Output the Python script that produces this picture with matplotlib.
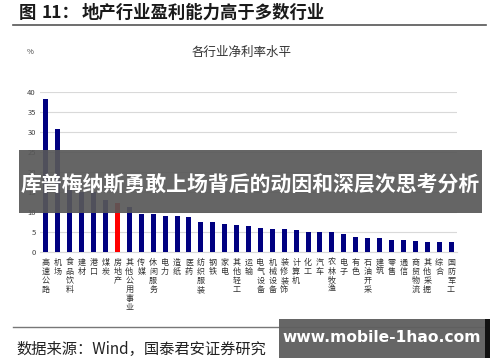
import matplotlib
matplotlib.use("Agg")
import matplotlib.pyplot as plt
from matplotlib.patches import Rectangle

plt.rcParams['font.family'] = ['Noto Sans CJK SC', 'DejaVu Sans']

categories = ["高速公路", "机场", "食品饮料", "建材", "港口", "煤炭", "房地产", "其他公用事业",
              "传媒", "休闲服务", "电力", "造纸", "医药", "纺织服装", "钢铁", "家电", "其他轻工",
              "运输", "电气设备", "机械设备", "装修装饰", "计算机", "化工", "汽车", "农林牧渔",
              "电子", "有色", "石油开采", "建筑", "零售", "通信", "商贸物流", "其他采掘", "综合",
              "国防军工"]
values = [38.3, 30.7, 15.5, 15.0, 15.0, 13.0, 12.2, 11.2, 9.4, 9.4, 9.1, 9.1, 8.8, 7.5, 7.5,
          6.9, 6.7, 6.5, 6.1, 5.8, 5.75, 5.4, 5.1, 5.1, 5.1, 4.5, 3.8, 3.6, 3.6, 3.1, 3.0,
          2.75, 2.6, 2.6, 2.6]
highlight = "房地产"
yticks = [0, 5, 10, 15, 20, 25, 30, 35, 40]

W, H = 500, 362
fig = plt.figure(figsize=(W / 100, H / 100), dpi=100)

def fx(x):
    return x / W

def fy(y):
    return 1 - y / H

ax = fig.add_axes([fx(40), fy(252), fx(457) - fx(40), fy(92) - fy(252)])
colors = ['#ff0000' if c == highlight else '#000080' for c in categories]
xs = list(range(len(categories)))
ax.bar(xs, values, width=0.42, color=colors, zorder=3)
ax.set_xlim(-0.5, len(categories) - 0.5)
ax.set_ylim(0, 40)
ax.set_yticks(yticks)
ax.set_yticklabels([str(v) for v in yticks], fontsize=5.5, color='#404040')
ax.yaxis.grid(True, color='#d9d9d9', linewidth=0.8, zorder=0)
ax.set_xticks(xs)
ax.set_xticklabels(['\n'.join(c) for c in categories], fontsize=5.8, linespacing=1.02,
                   va='top', color='#333333')
ax.tick_params(axis='both', length=0, pad=3)
ax.tick_params(axis='x', pad=4)
for s in ['top', 'right', 'left']:
    ax.spines[s].set_visible(False)
ax.spines['bottom'].set_color('#d9d9d9')
ax.spines['bottom'].set_linewidth(0.8)

# title
fig.text(fx(19), fy(13), "图", fontsize=12.5, fontweight='bold', va='center', ha='left', color='#1a1a1a')
fig.text(fx(42), fy(13), "11：", fontsize=12.5, fontweight='bold', va='center', ha='left', color='#1a1a1a')
fig.text(fx(82), fy(13), "地产行业盈利能力高于多数行业", fontsize=12.5, fontweight='bold',
         va='center', ha='left', color='#1a1a1a')
fig.add_artist(plt.Line2D([fx(13), fx(486)], [fy(25), fy(25)], color='#555555', linewidth=1.2))

fig.text(fx(27), fy(52), "%", fontsize=5.5, va='center', ha='left', color='#404040')
fig.text(fx(242), fy(52), "各行业净利率水平", fontsize=9, va='center', ha='center', color='#333333')

# bottom rule and source
fig.add_artist(plt.Line2D([fx(13), fx(486)], [fy(327), fy(327)], color='#777777', linewidth=1.0))
fig.text(fx(16), fy(349), "数据来源：Wind，国泰君安证券研究", fontsize=11, va='center', ha='left',
         color='#222222')

# overlay banner
fig.add_artist(Rectangle((fx(19), fy(213)), fx(482) - fx(19), fy(150) - fy(213),
                         transform=fig.transFigure, facecolor='#585858', alpha=0.92,
                         edgecolor='none', zorder=10))
fig.text(fx(250), fy(184), "库普梅纳斯勇敢上场背后的动因和深层次思考分析", fontsize=15,
         fontweight='bold', color='white', va='center', ha='center', zorder=11)

# watermark box
fig.add_artist(Rectangle((fx(279), fy(358)), fx(486) - fx(279), fy(319) - fy(358),
                         transform=fig.transFigure, facecolor='#5e5e5e', alpha=0.95,
                         edgecolor='none', zorder=10))
fig.add_artist(Rectangle((fx(485), fy(358)), fx(490) - fx(485), fy(319) - fy(358),
                         transform=fig.transFigure, facecolor='#111111',
                         edgecolor='none', zorder=10))
fig.text(fx(382), fy(338), "www.mobile-1hao.com", fontsize=11.2, fontweight='bold',
         family=['DejaVu Sans'], color='white', va='center', ha='center', zorder=11)

fig.savefig("out.png", dpi=100)
